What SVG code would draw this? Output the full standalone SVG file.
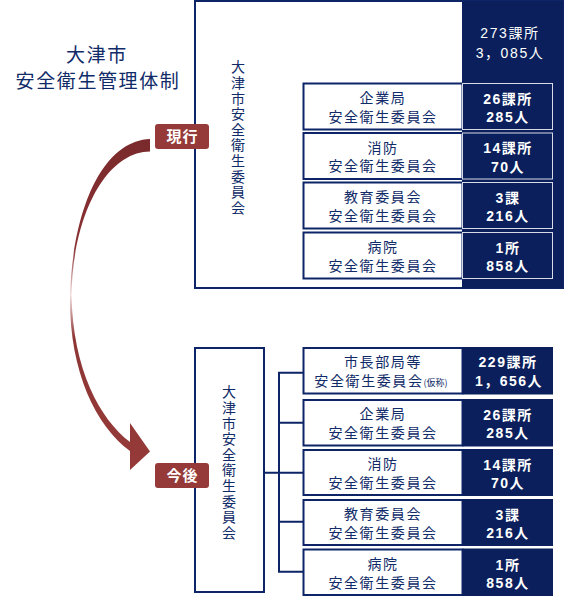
<svg xmlns="http://www.w3.org/2000/svg" width="580" height="607" viewBox="0 0 580 607">
<style>
text{font-family:"Noto Sans CJK JP","Noto Sans CJK SC",sans-serif}
.title{font-size:19px;fill:#102b68;letter-spacing:1.6px;text-anchor:middle}
.vt{font-size:14px;fill:#102b68;letter-spacing:1.6px;writing-mode:vertical-rl}
.lbl{font-size:14px;fill:#102b68;letter-spacing:1.6px;text-anchor:middle}
.num{font-family:"Liberation Sans","Noto Sans CJK JP",sans-serif;font-size:14px;fill:#ffffff;font-weight:bold;letter-spacing:1.5px;text-anchor:middle}
.numl{font-family:"Liberation Sans","Noto Sans CJK JP",sans-serif;font-size:14px;fill:#ffffff;letter-spacing:1.6px;text-anchor:middle}
.box{fill:#ffffff;stroke:#0d2466;stroke-width:2}
.dark{fill:#0a1f5c}
.darkc{fill:#0a1f5c;stroke:#d8dbe6;stroke-width:1}
.badge{fill:#953a38}
.btxt{font-size:15px;fill:#ffffff;font-weight:bold;letter-spacing:1px;text-anchor:middle}
.conn{stroke:#0d2466;stroke-width:2;fill:none}
</style>
<defs>
<linearGradient id="ag" gradientUnits="userSpaceOnUse" x1="0" y1="139" x2="0" y2="470">
<stop offset="0" stop-color="#7a2a2c"/>
<stop offset="0.33" stop-color="#8a3234"/>
<stop offset="0.47" stop-color="#f3dede"/>
<stop offset="0.6" stop-color="#8e3636"/>
<stop offset="1" stop-color="#953a38"/>
</linearGradient>
</defs>

<g id="title">
<text class="title" x="97" y="62">大津市</text>
<text class="title" x="98" y="88">安全衛生管理体制</text>
</g>

<g id="connectors">
<path id="arrow" fill="url(#ag)" d="M150,139 C102,141 73,210 70,295 C69,370 95,425 130,451 L130,470 L150,451.5 L130,423 L130,442 C100,419 73,370 71.5,295 C73,215 106,152 150,151.5 Z"/>
<path class="conn" d="M264,472.7 H279 M279,371.7 V572.7 M278,372.7 H303 M278,422.7 H303 M278,472.7 H303 M278,521.7 H303 M278,571.7 H303"/>
</g>

<g id="current">
<rect class="box" x="195" y="1" width="368" height="287"/>
<rect class="dark" x="462" y="1" width="101" height="287"/>
<text class="vt" x="238" y="60">大津市安全衛生委員会</text>
<text class="numl" x="510" y="38">273課所</text>
<text class="numl" x="510" y="57.5">3，085人</text>
</g>

<g id="cur-kigyo">
<rect class="box" x="303.5" y="83.5" width="159" height="46"/>
<rect class="darkc" x="462.5" y="83.5" width="90" height="46"/>
<text class="lbl" x="383" y="103">企業局</text>
<text class="lbl" x="383" y="121.5">安全衛生委員会</text>
<text class="num" x="508" y="103.5">26課所</text>
<text class="num" x="508" y="122">285人</text>
</g>
<g id="cur-shobo">
<rect class="box" x="303.5" y="133" width="159" height="46"/>
<rect class="darkc" x="462.5" y="133" width="90" height="46"/>
<text class="lbl" x="383" y="152.5">消防</text>
<text class="lbl" x="383" y="171">安全衛生委員会</text>
<text class="num" x="508" y="153">14課所</text>
<text class="num" x="508" y="171.5">70人</text>
</g>
<g id="cur-kyoiku">
<rect class="box" x="303.5" y="182.5" width="159" height="46"/>
<rect class="darkc" x="462.5" y="182.5" width="90" height="46"/>
<text class="lbl" x="383" y="202">教育委員会</text>
<text class="lbl" x="383" y="220.5">安全衛生委員会</text>
<text class="num" x="508" y="202.5">3課</text>
<text class="num" x="508" y="221">216人</text>
</g>
<g id="cur-byoin">
<rect class="box" x="303.5" y="232.5" width="159" height="46"/>
<rect class="darkc" x="462.5" y="232.5" width="90" height="46"/>
<text class="lbl" x="383" y="252">病院</text>
<text class="lbl" x="383" y="270.5">安全衛生委員会</text>
<text class="num" x="508" y="252.5">1所</text>
<text class="num" x="508" y="271">858人</text>
</g>

<g id="future">
<rect class="box" x="195" y="348" width="69" height="244"/>
<text class="vt" x="229" y="385">大津市安全衛生委員会</text>
</g>

<g id="fut-shicho">
<rect class="box" x="303.5" y="348" width="159" height="45.5"/>
<rect class="dark" x="462.5" y="347" width="90.5" height="47.5"/>
<text class="lbl" x="383" y="366.5">市長部局等</text>
<text class="lbl" x="381" y="385.5">安全衛生委員会<tspan font-size="9" letter-spacing="0">(仮称)</tspan></text>
<text class="num" x="508" y="367">229課所</text>
<text class="num" x="509" y="386">1，656人</text>
</g>
<g id="fut-kigyo">
<rect class="box" x="303.5" y="400" width="159" height="45.5"/>
<rect class="dark" x="462.5" y="399" width="90.5" height="47.5"/>
<text class="lbl" x="383" y="419">企業局</text>
<text class="lbl" x="383" y="437.5">安全衛生委員会</text>
<text class="num" x="508" y="419.5">26課所</text>
<text class="num" x="508" y="438">285人</text>
</g>
<g id="fut-shobo">
<rect class="box" x="303.5" y="450" width="159" height="45"/>
<rect class="dark" x="462.5" y="449" width="90.5" height="47"/>
<text class="lbl" x="383" y="469">消防</text>
<text class="lbl" x="383" y="487.5">安全衛生委員会</text>
<text class="num" x="508" y="469.5">14課所</text>
<text class="num" x="508" y="488">70人</text>
</g>
<g id="fut-kyoiku">
<rect class="box" x="303.5" y="500" width="159" height="45"/>
<rect class="dark" x="462.5" y="499" width="90.5" height="47"/>
<text class="lbl" x="383" y="519">教育委員会</text>
<text class="lbl" x="383" y="537.5">安全衛生委員会</text>
<text class="num" x="508" y="519.5">3課</text>
<text class="num" x="508" y="538">216人</text>
</g>
<g id="fut-byoin">
<rect class="box" x="303.5" y="549.5" width="159" height="45.5"/>
<rect class="dark" x="462.5" y="548.5" width="90.5" height="47.5"/>
<text class="lbl" x="383" y="569">病院</text>
<text class="lbl" x="383" y="587.5">安全衛生委員会</text>
<text class="num" x="508" y="569.5">1所</text>
<text class="num" x="508" y="588">858人</text>
</g>

<g id="badge-current">
<rect class="badge" x="155" y="124" width="54" height="25" rx="3"/>
<text class="btxt" x="182.5" y="142">現行</text>
</g>
<g id="badge-future">
<rect class="badge" x="155" y="463" width="54" height="25" rx="3"/>
<text class="btxt" x="182.5" y="481">今後</text>
</g>
</svg>
